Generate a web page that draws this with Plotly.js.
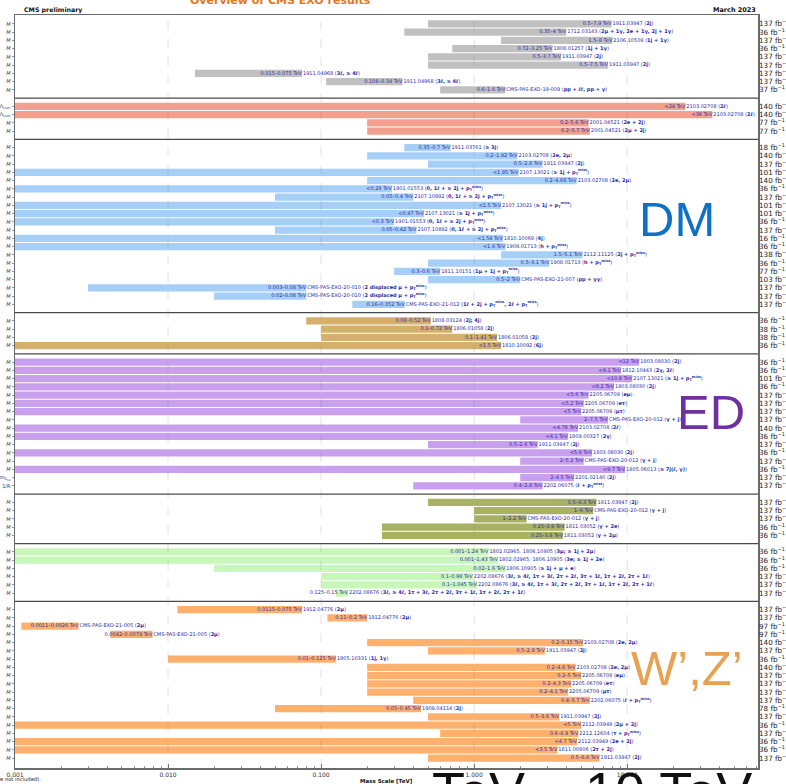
<!DOCTYPE html>
<html>
<head>
<meta charset="utf-8">
<script src="https://cdn.plot.ly/plotly-3.0.1.min.js"></script>
<style>
  html, body { margin: 0; padding: 0; background: #fff; }
  #chart { width: 786px; height: 784px; }
</style>
</head>
<body>
<div id="chart"></div>
<script>
// Missing transverse momentum symbol used in several final states
const PT = 'p<sub>T</sub><sup>miss</sup>';
const MULTI = '3ℓ, ≥ 4ℓ, 1τ + 3ℓ, 2τ + 2ℓ, 3τ + 1ℓ, 1τ + 2ℓ, 2τ + 1ℓ';

// Each row: [lower limit (null = open below), upper limit (TeV), reference, final state, luminosity (fb^-1), mass symbol]
const otherRows = [
  [0.5, 7.9, '1911.03947', '2j', 137],
  [0.35, 4, '1712.03143', '2μ + 1γ, 2e + 1γ, 2j + 1γ', 36],
  [1.5, 8, '2106.10509', '1j + 1γ', 137],
  [0.72, 3.25, '1808.01257', '1j + 1γ', 36],
  [0.5, 3.7, '1911.03947', '2j', 137],
  [0.5, 7.5, '1911.03947', '2j', 137],
  [0.015, 0.075, '1911.04968', '3ℓ, ≥ 4ℓ', 137],
  [0.108, 0.34, '1911.04968', '3ℓ, ≥ 4ℓ', 137],
  [0.6, 1.6, 'CMS-PAS-EXO-19-009', 'pp + ℓℓ, pp + γ', 37]
];

const contactRows = [
  [null, 24, '2103.02708', '2ℓ', 140, 'Λ<sub>LLm</sub>'],
  [null, 36, '2103.02708', '2ℓ', 140, 'Λ<sub>LLm</sub>'],
  [0.2, 5.6, '2001.04521', '2e + 2j', 77],
  [0.2, 5.7, '2001.04521', '2μ + 2j', 77]
];

const dmRows = [
  [0.35, 0.7, '1911.03761', '≥ 3j', 18],
  [0.2, 1.92, '2103.02708', '2e, 2μ', 140],
  [0.5, 2.8, '1911.03947', '2j', 137],
  [null, 1.95, '2107.13021', '≥ 1j + ' + PT, 101],
  [0.2, 4.68, '2103.02708', '2e, 2μ', 140],
  [null, 0.29, '1901.01553', '0, 1ℓ + ≥ 2j + ' + PT, 36],
  [0.05, 0.4, '2107.10892', '0, 1ℓ + ≥ 2j + ' + PT, 137],
  [null, 1.5, '2107.13021', '≥ 1j + ' + PT, 101],
  [null, 0.47, '2107.13021', '≥ 1j + ' + PT, 101],
  [null, 0.3, '1901.01553', '0, 1ℓ + ≥ 2j + ' + PT, 36],
  [0.05, 0.42, '2107.10892', '0, 1ℓ + ≥ 2j + ' + PT, 137],
  [null, 1.54, '1810.10069', '4j', 16],
  [null, 1.6, '1908.01713', 'h + ' + PT, 36],
  [1.5, 5.1, '2112.11125', '2j + ' + PT, 138],
  [0.5, 3.1, '1908.01713', 'h + ' + PT, 36],
  [0.3, 0.6, '1811.10151', '1μ + 1j + ' + PT, 77],
  [0.5, 2, 'CMS-PAS-EXO-21-007', 'pp + γγ', 103],
  [0.003, 0.08, 'CMS-PAS-EXO-20-010', '2 displaced μ + ' + PT, 137],
  [0.02, 0.08, 'CMS-PAS-EXO-20-010', '2 displaced μ + ' + PT, 137],
  [0.16, 0.352, 'CMS-PAS-EXO-21-012', '1ℓ + 2j + ' + PT + ', 2ℓ + ' + PT, 137]
];

const diquarkRows = [
  [0.08, 0.52, '1808.03124', '2j; 4j', 36],
  [0.1, 0.72, '1806.01058', '2j', 38],
  [0.1, 1.41, '1806.01058', '2j', 38],
  [null, 1.5, '1810.10092', '6j', 36]
];

const edRows = [
  [null, 12, '1803.08030', '2j', 36],
  [null, 9.1, '1812.10443', '2γ, 2ℓ', 36],
  [null, 10.8, '2107.13021', '≥ 1j + ' + PT, 101],
  [null, 8.2, '1803.08030', '2j', 36],
  [null, 5.6, '2205.06709', 'eμ', 137],
  [null, 5.2, '2205.06709', 'eτ', 137],
  [null, 5, '2205.06709', 'μτ', 137],
  [2, 7.5, 'CMS-PAS-EXO-20-012', 'γ + j', 137],
  [null, 4.78, '2103.02708', '2ℓ', 140],
  [null, 4.1, '1809.00327', '2γ', 36],
  [0.5, 2.6, '1911.03947', '2j', 137],
  [null, 5.9, '1803.08030', '2j', 36],
  [2, 5.2, 'CMS-PAS-EXO-20-012', 'γ + j', 137],
  [null, 9.7, '1805.06013', '≥ 7j(ℓ, γ)', 36],
  [2, 4.5, '2201.02140', '2j', 137, 'm<sub>G<sub>KK</sub></sub>'],
  [0.4, 2.8, '2202.06075', 'ℓ + ' + PT, 137, '1/R']
];

const excitedRows = [
  [0.5, 6.3, '1911.03947', '2j', 137],
  [1, 6, 'CMS-PAS-EXO-20-012', 'γ + j', 137],
  [1, 2.2, 'CMS-PAS-EXO-20-012', 'γ + j', 137],
  [0.25, 3.9, '1811.03052', 'γ + 2e', 36],
  [0.25, 3.8, '1811.03052', 'γ + 2μ', 36]
];

const neutrinoRows = [
  [0.001, 1.24, '1802.02965, 1806.10905', '3μ; ≥ 1j + 2μ', 36],
  [0.001, 1.43, '1802.02965; 1806.10905', '3e; ≥ 1j + 2e', 36],
  [0.02, 1.6, '1806.10905', '≥ 1j + μ + e', 36],
  [0.1, 0.98, '2202.08676', MULTI, 137],
  [0.1, 1.045, '2202.08676', MULTI, 137],
  [0.125, 0.15, '2202.08676', MULTI, 137]
];

const wzRows = [
  [0.0115, 0.075, '1912.04776', '2μ', 137],
  [0.11, 0.2, '1912.04776', '2μ', 137],
  [0.0011, 0.0026, 'CMS-PAS-EXO-21-005', '2μ', 97],
  [0.0042, 0.0079, 'CMS-PAS-EXO-21-005', '2μ', 97],
  [0.2, 5.15, '2103.02708', '2e, 2μ', 140],
  [0.5, 2.9, '1911.03947', '2j', 137],
  [0.01, 0.125, '1905.10331', '1j, 1γ', 36],
  [0.2, 4.6, '2103.02708', '2e, 2μ', 140],
  [0.2, 5, '2205.06709', 'eμ', 137],
  [0.2, 4.3, '2205.06709', 'eτ', 137],
  [0.2, 4.1, '2205.06709', 'μτ', 137],
  [0.4, 5.7, '2202.06075', 'ℓ + ' + PT, 137],
  [0.05, 0.45, '1909.04114', '2j', 78],
  [0.5, 3.6, '1911.03947', '2j', 137],
  [null, 5, '2112.03949', '2μ + 2j', 36],
  [0.6, 4.8, '2212.12604', 'τ + ' + PT, 137],
  [null, 4.7, '2112.03949', '2e + 2j', 36],
  [null, 3.5, '1811.00806', '2τ + 2j', 36],
  [0.5, 6.6, '1911.03947', '2j', 137]
];

const sectionRows = [otherRows, contactRows, dmRows, diquarkRows, edRows, excitedRows, neutrinoRows, wzRows];
const sectionColors = ['#c0c0c0', '#f2a08e', '#a6cff8', '#d5b06c', '#c9a0ee', '#a9b262', '#c8f7b9', '#ffb06c'];

// Axis settings (mass scale in TeV, log)
const X_MIN = 0.001;
const X_MAX = 71.6;
const xTickVals = [0.001, 0.01, 0.1, 1, 10];
const xTickText = ['0.001', '0.010', '0.100', '1.000', '10.000'];
const gridVals = [0.01, 0.1, 1, 10];

const FONT = 'DejaVu Sans, sans-serif';
const LABEL_BLUE = '#2a2aa8';

// ---- build traces, one bar trace per group, rows stacked top to bottom ----
const traces = [];
const rangeX = [], rangeY = [], rangeT = [];
const refX = [], refY = [], refT = [];
const yTickVals = [], yTickText = [], lumiText = [];
const separators = [];
let slot = 0;

sectionRows.forEach((rows, s) => {
  const ys = [], len = [], base = [];
  rows.forEach(r => {
    const [lo, hi, ref, fs, lumi, sym] = r;
    const start = lo === null ? X_MIN : lo;
    ys.push(slot); base.push(start); len.push(hi - start);
    rangeX.push(hi); rangeY.push(slot);
    rangeT.push(lo === null ? '&lt;' + hi + ' TeV' : lo + '–' + hi + ' TeV');
    refX.push(hi); refY.push(slot);
    refT.push('\u2009' + ref + ' (<b>' + fs + '</b>)');
    yTickVals.push(slot);
    yTickText.push(sym || '<i>M</i>');
    lumiText.push(lumi + ' fb<sup>−1</sup>');
    slot++;
  });
  traces.push({
    type: 'bar', orientation: 'h', y: ys, x: len, base: base, width: 0.86,
    marker: { color: sectionColors[s], line: { width: 0 } },
    hoverinfo: 'skip', showlegend: false
  });
  if (s < sectionRows.length - 1) { separators.push(slot); slot++; }
});
const lastSlot = slot - 1;

traces.push({
  type: 'scatter', mode: 'text', x: rangeX, y: rangeY, text: rangeT,
  textposition: 'middle left', cliponaxis: false,
  textfont: { family: FONT, size: 5, color: LABEL_BLUE },
  hoverinfo: 'skip', showlegend: false
});
traces.push({
  type: 'scatter', mode: 'text', x: refX, y: refY, text: refT,
  textposition: 'middle right', cliponaxis: false,
  textfont: { family: FONT, size: 5, color: LABEL_BLUE },
  hoverinfo: 'skip', showlegend: false
});
// carrier for the luminosity axis on the right
traces.push({ type: 'scatter', mode: 'markers', x: [null], y: [null], yaxis: 'y2', hoverinfo: 'skip', showlegend: false });

const yRange = [lastSlot + 1.2, -1.07];

const minorVals = [];
[0.001, 0.01, 0.1, 1, 10].forEach(d => { for (let k = 2; k <= 9; k++) minorVals.push(d * k); });

const shapes = [];
separators.forEach(v => shapes.push({
  type: 'line', xref: 'paper', x0: 0, x1: 1, yref: 'y', y0: v, y1: v,
  line: { color: '#4a4a4a', width: 1.3 }
}));
gridVals.forEach(v => shapes.push({
  type: 'line', xref: 'x', x0: v, x1: v, yref: 'paper', y0: 0, y1: 1, layer: 'above',
  line: { color: 'rgba(120,120,120,0.22)', width: 1, dash: 'dash' }
}));

const annotations = [
  { text: '<b>Overview of CMS EXO results</b>', xref: 'paper', yref: 'paper', x: 0.358, y: 1.0186,
    xanchor: 'center', yanchor: 'middle', showarrow: false, font: { family: FONT, size: 11, color: '#e8741c' } },
  { text: '<b>CMS preliminary</b>', xref: 'paper', yref: 'paper', x: 0.0094, y: 1.006,
    xanchor: 'left', yanchor: 'middle', showarrow: false, font: { family: FONT, size: 6.3, color: '#111' } },
  { text: '<b>March 2023</b>', xref: 'paper', yref: 'paper', x: 1, y: 1.006,
    xanchor: 'right', yanchor: 'middle', showarrow: false, font: { family: FONT, size: 6.5, color: '#111' } },
  { text: '<b>Mass Scale [TeV]</b>', xref: 'paper', yref: 'paper', x: 0.5, y: -0.0175,
    xanchor: 'center', yanchor: 'middle', showarrow: false, font: { family: FONT, size: 5.5, color: '#111' } },
  { text: '(Older results are not included).', xref: 'paper', yref: 'paper', x: 0.038, y: -0.0146,
    xanchor: 'right', yanchor: 'middle', showarrow: false, font: { family: FONT, size: 5.2, color: '#222' } },
  { text: 'TeV – 10 TeV', xref: 'paper', yref: 'paper', x: 0.559, y: -0.031,
    xanchor: 'left', yanchor: 'middle', showarrow: false, font: { family: 'Liberation Sans, Arial, sans-serif', size: 54, color: '#111' } },
  { text: 'DM', xref: 'paper', yref: 'y', x: 0.891, y: 23.7,
    xanchor: 'center', yanchor: 'middle', showarrow: false, font: { family: 'Liberation Sans, Arial, sans-serif', size: 49, color: '#1070c4' } },
  { text: 'ED', xref: 'paper', yref: 'y', x: 0.937, y: 47.1,
    xanchor: 'center', yanchor: 'middle', showarrow: false, font: { family: 'Liberation Sans, Arial, sans-serif', size: 49, color: '#7030a0' } },
  { text: 'W’,Z’', xref: 'paper', yref: 'y', x: 0.905, y: 78.1,
    xanchor: 'center', yanchor: 'middle', showarrow: false, font: { family: 'Liberation Sans, Arial, sans-serif', size: 49, color: '#e8a052' } }
];

const layout = {
  width: 786, height: 784,
  margin: { l: 15, r: 28, t: 15, b: 16, pad: 0 },
  paper_bgcolor: '#fff', plot_bgcolor: '#fff',
  showlegend: false, barmode: 'overlay',
  font: { family: FONT, color: '#222' },
  xaxis: {
    type: 'log', range: [Math.log10(X_MIN), Math.log10(X_MAX)],
    tickmode: 'array', tickvals: xTickVals, ticktext: xTickText,
    ticks: 'inside', ticklen: 4, tickcolor: '#555', tickwidth: 0.8,
    minor: { tickmode: 'array', tickvals: minorVals, ticks: 'inside', ticklen: 2.5, tickcolor: '#777', showgrid: false },
    tickfont: { family: FONT, size: 6, color: '#333' },
    showgrid: false, zeroline: false,
    showline: true, mirror: true, linecolor: '#6a6a6a', linewidth: 1.5,
    automargin: false, fixedrange: true
  },
  yaxis: {
    range: yRange, tickmode: 'array', tickvals: yTickVals, ticktext: yTickText,
    ticks: 'outside', ticklen: 2, tickcolor: '#555', tickwidth: 0.6,
    tickfont: { family: FONT, size: 5, color: '#333' },
    showgrid: false, zeroline: false,
    showline: true, mirror: true, linecolor: '#6a6a6a', linewidth: 1.5,
    automargin: false, fixedrange: true
  },
  yaxis2: {
    overlaying: 'y', side: 'right', range: yRange,
    tickmode: 'array', tickvals: yTickVals, ticktext: lumiText,
    ticks: '', ticklen: 0,
    tickfont: { family: FONT, size: 7.2, color: '#222' },
    showgrid: false, zeroline: false, showline: false,
    automargin: false, fixedrange: true
  },
  shapes: shapes,
  annotations: annotations
};

Plotly.newPlot('chart', traces, layout, { staticPlot: true, displayModeBar: false });
</script>
</body>
</html>
